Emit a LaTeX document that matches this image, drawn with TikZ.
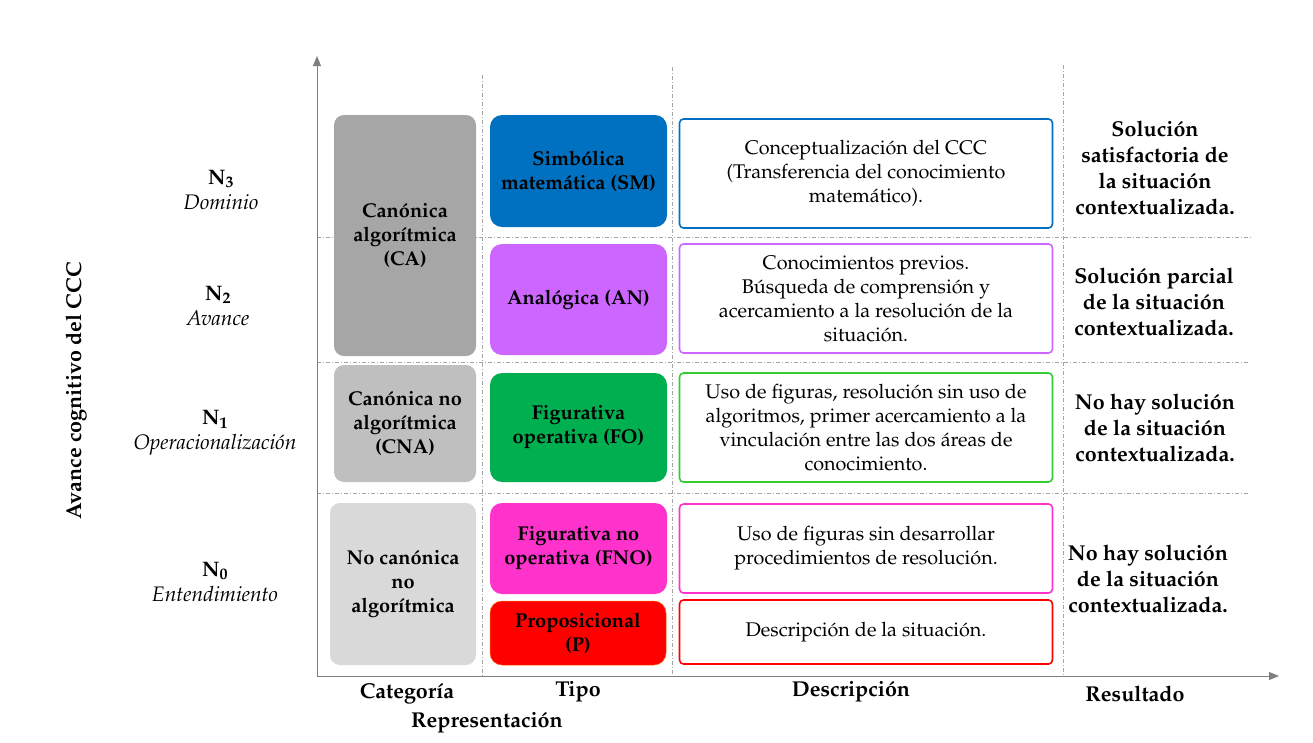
\documentclass[tikz,border=0pt]{standalone}
\usepackage[T1]{fontenc}
\usepackage{mathpazo}
\usetikzlibrary{arrows.meta}
\definecolor{axisgray}{HTML}{7F7F7F}
\definecolor{gridgray}{HTML}{A6A6A6}
\definecolor{caFill}{HTML}{A6A6A6}
\definecolor{cnaFill}{HTML}{BFBFBF}
\definecolor{ncFill}{HTML}{D9D9D9}
\definecolor{smBlue}{HTML}{0070C0}
\definecolor{anPurple}{HTML}{CC66FF}
\definecolor{foGreen}{HTML}{00B050}
\definecolor{foLine}{HTML}{33CC33}
\definecolor{fnoPink}{HTML}{FF33CC}
\definecolor{pRed}{HTML}{FF0000}
\tikzset{
  x=1pt, y=-1pt,
  catbox/.style={draw=none, rounded corners=10pt, inner sep=0pt, align=center,
     font=\fontsize{20}{24}\selectfont\bfseries},
  tipobox/.style={draw=none, rounded corners=12pt, inner sep=0pt, align=center,
     font=\fontsize{20}{24}\selectfont\bfseries},
  descbox/.style={fill=white, line width=1.6pt, rounded corners=4pt, inner sep=0pt, align=center,
     font=\fontsize{19.8}{24}\selectfont},
  restext/.style={align=center, font=\fontsize{21.5}{26}\selectfont\bfseries},
  lvltext/.style={align=center, font=\fontsize{21}{25}\selectfont},
  axislabel/.style={font=\fontsize{21.5}{26}\selectfont\bfseries},
  gridline/.style={draw=gridgray, line width=0.6pt, dash pattern=on 4pt off 2pt on 1pt off 2pt},
  axisline/.style={draw=axisgray, line width=1pt, -{Triangle[length=10pt,width=8pt]}},
}
\begin{document}
\begin{tikzpicture}
\useasboundingbox (0,0) rectangle (1313,742);
% grid lines
\draw[gridline] (482,75) -- (482,676);
\draw[gridline] (672,67) -- (672,676);
\draw[gridline] (1063,65) -- (1063,676);
\draw[gridline] (317,237) -- (1252,237);
\draw[gridline] (317,362) -- (1248,362);
\draw[gridline] (317,493) -- (1248,493);
% axes
\coordinate (origin) at (317,676);
\coordinate (ytip) at (317,56);
\coordinate (xtip) at (1279,676);
\draw[axisline] (origin) -- (ytip);
\draw[axisline] (origin) -- (xtip);
% categoria boxes
\node[catbox, fill=caFill, minimum width=142pt, minimum height=241pt] (ca) at (405,235.5) {Canónica\\algorítmica\\(CA)};
\node[catbox, fill=cnaFill, minimum width=142pt, minimum height=117pt] (cna) at (405,423.5) {Canónica no\\algorítmica\\(CNA)};
\node[catbox, fill=ncFill, minimum width=146pt, minimum height=162pt] (nc) at (403,584) {No canónica\\no\\algorítmica};
% tipo boxes
\node[tipobox, fill=smBlue, minimum width=177pt, minimum height=112pt] (sm) at (578.5,171) {Simbólica\\matemática (SM)};
\node[tipobox, fill=anPurple, minimum width=177pt, minimum height=111pt] (an) at (578.5,299.5) {Analógica (AN)};
\node[tipobox, fill=foGreen, minimum width=177pt, minimum height=109pt] (fo) at (578.5,427.5) {Figurativa\\operativa (FO)};
\node[tipobox, fill=fnoPink, minimum width=177pt, minimum height=91pt] (fno) at (578.5,548.5) {Figurativa no\\operativa (FNO)};
\node[tipobox, fill=pRed, draw=orange!80!red, line width=0.5pt, minimum width=176pt, minimum height=64pt] (p) at (578,633) {Proposicional\\(P)};
% descripcion boxes
\node[descbox, draw=smBlue, minimum width=373pt, minimum height=109pt] (dsm) at (866,173.5) {Conceptualización del CCC\\(Transferencia del conocimiento\\matemático).};
\node[descbox, draw=anPurple, minimum width=373pt, minimum height=109pt] (dan) at (866,298.5) {Conocimientos previos.\\Búsqueda de comprensión y\\acercamiento a la resolución de la\\situación.};
\node[descbox, draw=foLine, minimum width=373pt, minimum height=109pt] (dfo) at (866,427.5) {Uso de figuras, resolución sin uso de\\algoritmos, primer acercamiento a la\\vinculación entre las dos áreas de\\conocimiento.};
\node[descbox, draw=fnoPink, minimum width=373pt, minimum height=89pt] (dfno) at (866,548.5) {Uso de figuras sin desarrollar\\procedimientos de resolución.};
\node[descbox, draw=pRed, minimum width=373pt, minimum height=64pt] (dp) at (866,632) {Descripción de la situación.};
% resultados
\node[restext] (r3) at (1155,168) {Solución\\satisfactoria de\\la situación\\contextualizada.};
\node[restext] (r2) at (1154,302) {Solución parcial\\de la situación\\contextualizada.};
\node[restext] (r1) at (1155,428) {No hay solución\\de la situación\\contextualizada.};
\node[restext] (r0) at (1148,579) {No hay solución\\de la situación\\contextualizada.};
% niveles
\node[lvltext] (n3) at (221,190) {\textbf{N\textsubscript{3}}\\\textit{Dominio}};
\node[lvltext] (n2) at (218,306) {\textbf{N\textsubscript{2}}\\\textit{Avance}};
\node[lvltext] (n1) at (215,433) {\textbf{N\textsubscript{1}}\\\textit{Operacionalización}};
\node[lvltext] (n0) at (215,582) {\textbf{N\textsubscript{0}}\\\textit{Entendimiento}};
\node[axislabel, rotate=90] (yl) at (76,391) {Avance cognitivo del CCC};
% x labels
\node[axislabel] (lcat) at (407,694) {Categoría};
\node[axislabel] (ltipo) at (578,692) {Tipo};
\node[axislabel] (ldesc) at (851,692) {Descripción};
\node[axislabel] (lres) at (1135,694) {Resultado};
\node[axislabel] (lrep) at (487,723) {Representación};
\end{tikzpicture}
\end{document}
